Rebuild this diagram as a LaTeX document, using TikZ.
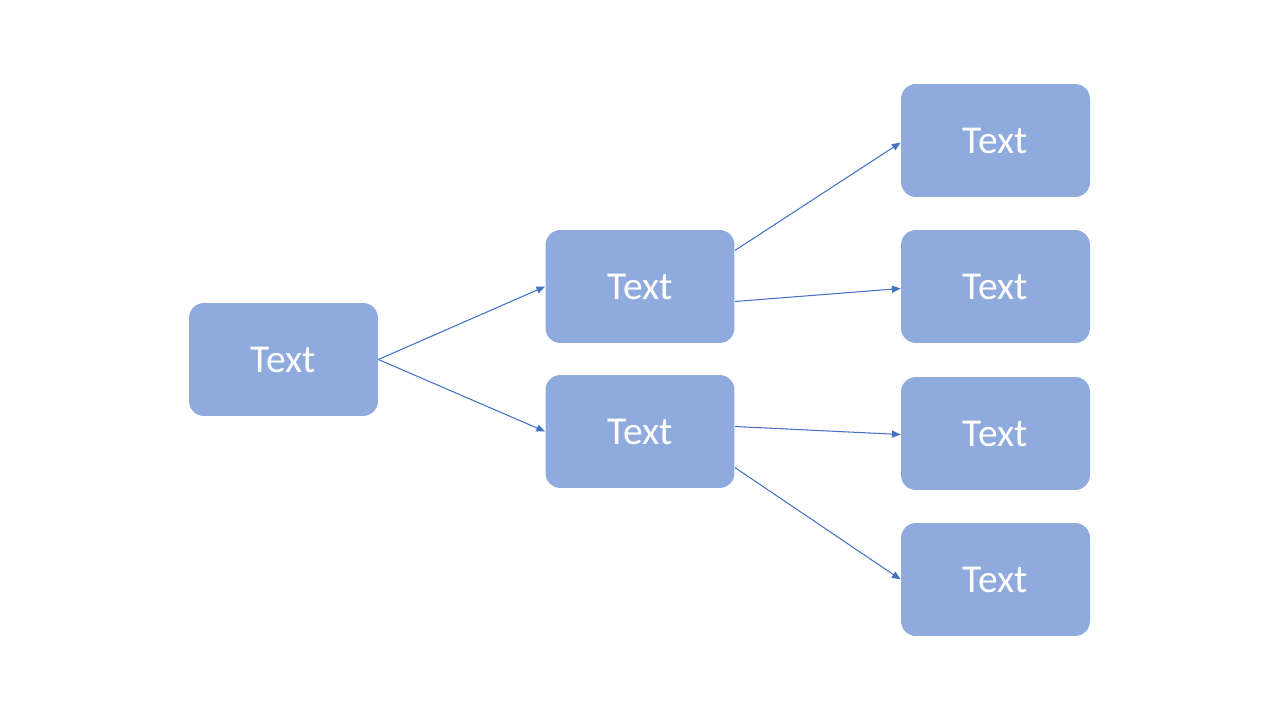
\documentclass[tikz,border=0pt]{standalone}
\usepackage{fontspec}
\setmainfont{Carlito}
\usetikzlibrary{calc,arrows.meta}
\definecolor{boxc}{HTML}{8FAADC}
\definecolor{linec}{HTML}{4472C4}
\begin{document}
\begin{tikzpicture}[x=0.02cm,y=-0.02cm,
  box/.style={fill=boxc,draw=none,rounded corners=0.3cm,minimum width=3.78cm,minimum height=2.26cm,text=white,font=\fontsize{22.5}{26}\selectfont,inner sep=0pt},
  conn/.style={draw=linec,line width=0.6pt,-{Triangle[length=5pt,width=4pt]}}]
\useasboundingbox (0,0) rectangle (1280,720);
\node[box] (A) at (283.5,359.5) {Text};
\node[box] (B1) at (640,286.5) {Text};
\node[box] (B2) at (640,431.5) {Text};
\node[box] (C1) at (995.5,140.5) {Text};
\node[box] (C2) at (995.5,286.5) {Text};
\node[box] (C3) at (995.5,433.5) {Text};
\node[box] (C4) at (995.5,579.5) {Text};
\draw[conn] (A.east) -- (B1.west);
\draw[conn] (A.east) -- (B2.west);
\draw[conn] ($(B1.east)+(0,-36)$) -- ($(C1.west)+(0,2)$);
\draw[conn] ($(B1.east)+(0,15)$) -- ($(C2.west)+(0,2)$);
\draw[conn] ($(B2.east)+(0,-5)$) -- ($(C3.west)+(0,1)$);
\draw[conn] ($(B2.east)+(0,36)$) -- ($(C4.west)+(0,0)$);
\end{tikzpicture}
\end{document}
